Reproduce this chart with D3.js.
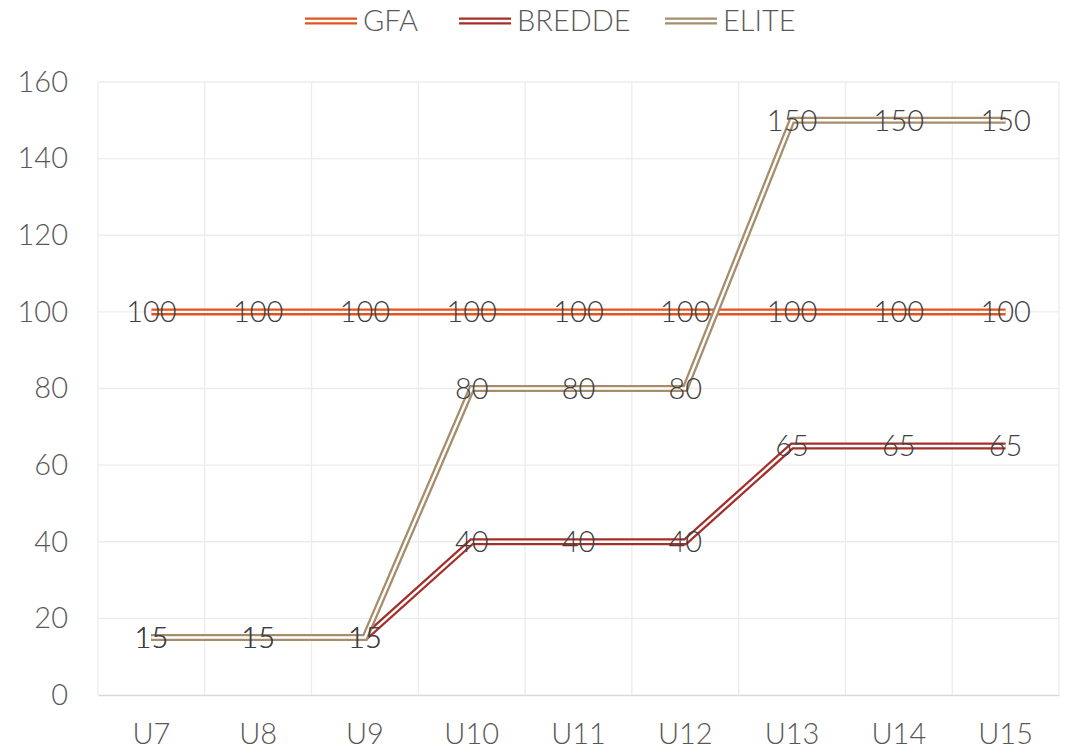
<!DOCTYPE html>
<html>
<head>
<meta charset="utf-8">
<script src="https://cdn.jsdelivr.net/npm/d3@7"></script>
<style>
  body { margin: 0; background: #fff; }
  svg text { font-family: "Century Gothic", "Lato", sans-serif; font-weight: 300; }
</style>
</head>
<body>
<div class="holder"></div>
<script>
// chart data
var categories = ["U7", "U8", "U9", "U10", "U11", "U12", "U13", "U14", "U15"];
var gfa    = [100, 100, 100, 100, 100, 100, 100, 100, 100];
var bredde = [15, 15, 15, 40, 40, 40, 65, 65, 65];
var elite  = [15, 15, 15, 80, 80, 80, 150, 150, 150];
var yTicks = [0, 20, 40, 60, 80, 100, 120, 140, 160];

var seriesNames  = ["GFA", "BREDDE", "ELITE"];
var seriesValues = [gfa, bredde, elite];
var seriesColors = ["#E0551F", "#A3302A", "#A68D6C"];

var width = 1073, height = 753;
var marginTop = 82, marginRight = 14, marginBottom = 58, marginLeft = 98;

var svg = d3.select(".holder")
  .append("svg")
  .attr("width", width)
  .attr("height", height);

var x = d3.scaleBand()
  .domain(categories)
  .range([marginLeft, width - marginRight]);

var y = d3.scaleLinear()
  .domain([0, 160])
  .range([height - marginBottom, marginTop]);

// gridlines
var grid = svg.append("g");
grid.selectAll(".hg")
  .data(yTicks.slice(1))
  .enter().append("line")
  .attr("x1", marginLeft).attr("x2", width - marginRight)
  .attr("y1", function(d) { return y(d); })
  .attr("y2", function(d) { return y(d); })
  .style("stroke", "#ececec").style("stroke-width", 1.3);

grid.selectAll(".vg")
  .data(categories)
  .enter().append("line")
  .attr("x1", function(d) { return x(d) + x.bandwidth(); })
  .attr("x2", function(d) { return x(d) + x.bandwidth(); })
  .attr("y1", marginTop).attr("y2", height - marginBottom)
  .style("stroke", "#ececec").style("stroke-width", 1.3);

grid.append("line")
  .attr("x1", marginLeft).attr("x2", marginLeft)
  .attr("y1", marginTop).attr("y2", height - marginBottom)
  .style("stroke", "#ececec").style("stroke-width", 1.3);

// y axis
var yAxis = svg.append("g")
  .attr("transform", "translate(" + marginLeft + ",0)")
  .call(d3.axisLeft(y).tickValues(yTicks).tickSize(0).tickPadding(30));
yAxis.select(".domain").remove();
yAxis.selectAll("text")
  .style("font-size", "29px").style("fill", "#595959")
  .style("font-family", "\"Century Gothic\", Lato, sans-serif");

// x axis
var xAxis = svg.append("g")
  .attr("transform", "translate(0," + (height - marginBottom) + ")")
  .call(d3.axisBottom(x).tickSize(0).tickPadding(28));
xAxis.select(".domain").style("stroke", "#d9d9d9").style("stroke-width", 1.3);
xAxis.selectAll("text")
  .style("font-size", "29px").style("fill", "#595959")
  .style("font-family", "\"Century Gothic\", Lato, sans-serif");

// double lines
var line = d3.line()
  .x(function(d, i) { return x(categories[i]) + x.bandwidth() / 2; })
  .y(function(d) { return y(d); });

seriesValues.forEach(function(vals, s) {
  svg.append("path")
    .attr("d", line(vals))
    .style("fill", "none")
    .style("stroke", seriesColors[s])
    .style("stroke-width", 7);
  svg.append("path")
    .attr("d", line(vals))
    .style("fill", "none")
    .style("stroke", "#fff")
    .style("stroke-width", 2.4);
});

// data labels
seriesValues.forEach(function(vals, s) {
  svg.selectAll(".lbl" + s)
    .data(vals)
    .enter().append("text")
    .attr("x", function(d, i) { return x(categories[i]) + x.bandwidth() / 2; })
    .attr("y", function(d) { return y(d); })
    .attr("dy", "0.36em")
    .attr("text-anchor", "middle")
    .style("font-size", "29px")
    .style("fill", "#404040")
    .text(function(d) { return d; });
});

// legend
var legendX = [305, 459, 665];
var legend = svg.append("g");
seriesNames.forEach(function(name, s) {
  var g = legend.append("g").attr("transform", "translate(" + legendX[s] + ",21)");
  g.append("line").attr("x1", 0).attr("x2", 52).attr("y1", 0).attr("y2", 0)
    .style("stroke", seriesColors[s]).style("stroke-width", 7);
  g.append("line").attr("x1", 0).attr("x2", 52).attr("y1", 0).attr("y2", 0)
    .style("stroke", "#fff").style("stroke-width", 2.4);
  g.append("text")
    .attr("x", 58).attr("y", 0).attr("dy", "0.36em")
    .style("font-size", "29px").style("fill", "#595959")
    .text(name);
});
</script>
</body>
</html>
